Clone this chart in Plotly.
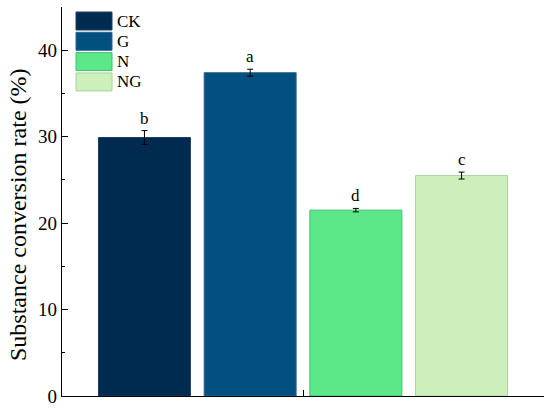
import plotly.graph_objects as go

groups = ['CK', 'G', 'N', 'NG']
rates = [29.9, 37.4, 21.5, 25.5]
errors = [0.8, 0.4, 0.2, 0.4]
letters = ['b', 'a', 'd', 'c']
positions = [1, 2, 3, 4]

colors = ['#002b50', '#015080', '#5ce889', '#cdefbc']
outlines = ['#1d3e5e', '#2a6790', '#3fbf6a', '#a9d49a']

font_name = 'Liberation Serif'

# plot area in pixels (for the hand-made legend and the axis title)
L, R, T, B = 62, 6, 7, 14
pw, ph = 550 - L - R, 410 - T - B
bottom_px = 410 - B

fig = go.Figure()

fig.add_trace(go.Bar(
    x=positions,
    y=rates,
    width=0.87,
    marker=dict(color=colors, line=dict(color=outlines, width=1)),
    error_y=dict(type='data', array=errors, color='black', thickness=1, width=3),
    showlegend=False
))

# significance letters above the error bars
for xp, val, err, lab in zip(positions, rates, errors, letters):
    fig.add_annotation(x=xp, y=val + err, text=lab, showarrow=False,
                       yanchor='bottom', yshift=1,
                       font=dict(family=font_name, size=17, color='black'))

# legend drawn by hand (wide colour boxes like the original)
for i, (name, col, oc) in enumerate(zip(groups, colors, outlines)):
    top = 12 + i * 20.3
    fig.add_shape(type='rect', xref='paper', yref='paper',
                  x0=(76 - L) / pw, x1=(112 - L) / pw,
                  y0=(bottom_px - top - 18) / ph, y1=(bottom_px - top) / ph,
                  fillcolor=col, line=dict(color=oc, width=1))
    fig.add_annotation(xref='paper', yref='paper',
                       x=(115 - L) / pw, y=(bottom_px - top - 9) / ph,
                       text=name, showarrow=False, xanchor='left', yanchor='middle',
                       font=dict(family=font_name, size=17, color='black'))

# y axis title (slightly below centre, as in the original)
fig.add_annotation(xref='paper', yref='paper',
                   x=(18 - L) / pw, y=(bottom_px - 215) / ph,
                   text='Substance conversion rate (%)', showarrow=False,
                   textangle=-90, xanchor='center', yanchor='middle',
                   font=dict(family=font_name, size=24, color='black'))

fig.update_layout(
    width=550, height=410,
    margin=dict(l=L, r=R, t=T, b=B, autoexpand=False),
    plot_bgcolor='white', paper_bgcolor='white',
    font=dict(family=font_name, size=18, color='black'),
    xaxis=dict(range=[0.22, 4.78], showline=True, linecolor='black', linewidth=1.2,
               tickvals=[2.5, 4.78], ticktext=['', ''], ticks='inside', ticklen=6,
               tickcolor='black', tickwidth=1.2, showgrid=False, zeroline=False),
    yaxis=dict(range=[0, 45], showline=True, linecolor='black', linewidth=1.2,
               tickvals=[0, 10, 20, 30, 40], ticks='inside', ticklen=6,
               tickcolor='black', tickwidth=1.2, showgrid=False, zeroline=False,
               minor=dict(tickvals=[5, 15, 25, 35], ticks='inside', ticklen=3,
                          tickcolor='black', tickwidth=1.2),
               tickfont=dict(family=font_name, size=19))
)

fig.write_html("out.html", config={'displayModeBar': False},
               post_script="document.body.style.margin='0';")
